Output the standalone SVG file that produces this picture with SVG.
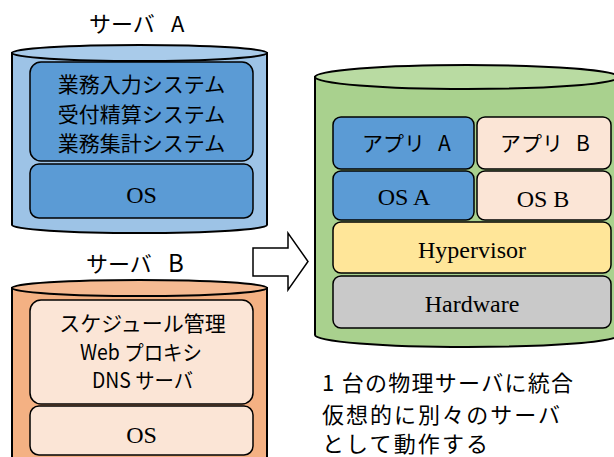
<svg xmlns="http://www.w3.org/2000/svg" width="614" height="457" viewBox="0 0 614 457">
<style>
.cyl{stroke:#000;stroke-width:2}
.box{stroke:#000;stroke-width:1.5}
.jp{font-family:"Noto Sans CJK JP","Noto Sans",sans-serif;fill:#000}
.sr{font-family:"Liberation Serif","Times New Roman",serif;font-size:24px;fill:#000;text-anchor:middle}
.blue{fill:#5B9BD5}
.peach{fill:#FBE5D6}
</style>
<rect width="614" height="457" fill="#fff"/>
<g id="serverA">
<path class="cyl" d="M12,53 L12,225 A127.5,8 0 0 0 267,225 L267,53 Z" fill="#9DC3E6"/>
<ellipse class="cyl" cx="139.5" cy="53" rx="127.5" ry="8" fill="#A9CBEA"/>
<text class="jp" y="31.5" font-size="22"><tspan x="89">サーバ</tspan><tspan x="171">A</tspan></text>
<rect class="box blue" x="30" y="62" width="223" height="99" rx="11"/>
<text class="jp" x="141.5" y="92" font-size="21" text-anchor="middle">業務入力システム</text>
<text class="jp" x="141.5" y="122" font-size="21" text-anchor="middle">受付精算システム</text>
<text class="jp" x="141.5" y="151" font-size="21" text-anchor="middle">業務集計システム</text>
<rect class="box blue" x="30" y="164" width="223" height="54" rx="9"/>
<text class="sr" x="141.5" y="203">OS</text>
</g>
<g id="serverB">
<path class="cyl" d="M12,288 L12,470 L267,470 L267,288 Z" fill="#F4B183"/>
<ellipse class="cyl" cx="139.5" cy="288" rx="127.5" ry="8" fill="#F5BA92"/>
<text class="jp" y="271.5" font-size="22"><tspan x="86">サーバ</tspan><tspan x="168" font-size="24">B</tspan></text>
<rect class="box peach" x="30" y="300" width="223" height="104" rx="11"/>
<text class="jp" x="142.5" y="331" font-size="21" text-anchor="middle">スケジュール管理</text>
<text class="jp" x="80" y="360" font-size="21" textLength="122" lengthAdjust="spacingAndGlyphs">Web プロキシ</text>
<text class="jp" x="92" y="388" font-size="21" textLength="101" lengthAdjust="spacingAndGlyphs">DNS サーバ</text>
<rect class="box peach" x="30" y="406" width="223" height="49" rx="9"/>
<text class="sr" x="141.5" y="443">OS</text>
</g>
<g id="connectors">
<polygon points="253,248 288,248 288,233 308,261.5 288,290 288,276 253,276" fill="#fff" stroke="#000" stroke-width="1.5"/>
</g>
<g id="physical">
<path class="cyl" d="M315,77 L315,335 A152,12 0 0 0 619,335 L619,77 Z" fill="#A9D18E"/>
<ellipse class="cyl" cx="467" cy="77" rx="152" ry="12" fill="#B9DBA2"/>
<rect class="box blue" x="333" y="117" width="141" height="52" rx="8"/>
<text class="jp" y="150.5" font-size="21"><tspan x="362">アプリ</tspan><tspan x="438">A</tspan></text>
<rect class="box peach" x="477" y="117" width="134" height="52" rx="8"/>
<text class="jp" y="150.5" font-size="21"><tspan x="500">アプリ</tspan><tspan x="576">B</tspan></text>
<rect class="box blue" x="333" y="171" width="141" height="49" rx="8"/>
<text class="sr" x="404" y="205">OS A</text>
<rect class="box peach" x="477" y="171" width="134" height="49" rx="8"/>
<text class="sr" x="543" y="207">OS B</text>
<rect class="box" x="333" y="222" width="278" height="51" rx="8" fill="#FFE699"/>
<text class="sr" x="472" y="257.5">Hypervisor</text>
<rect class="box" x="333" y="276" width="278" height="52" rx="8" fill="#C9C9C9"/>
<text class="sr" x="472" y="312">Hardware</text>
</g>
<g id="caption">
<text class="jp" x="322" y="391" font-size="22" textLength="251" lengthAdjust="spacing">1 台の物理サーバに統合</text>
<text class="jp" x="322" y="423" font-size="22" textLength="238" lengthAdjust="spacing">仮想的に別々のサーバ</text>
<text class="jp" x="322" y="452" font-size="22" textLength="166" lengthAdjust="spacing">として動作する</text>
</g>
</svg>
